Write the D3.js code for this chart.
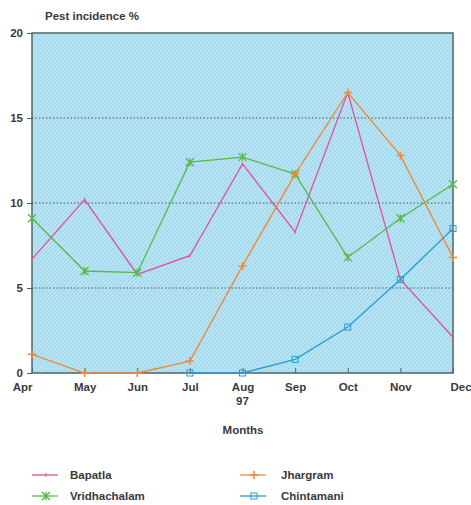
<!DOCTYPE html>
<html><head><meta charset="utf-8">
<script src="https://cdn.jsdelivr.net/npm/d3@7"></script>
<style>body{margin:0;background:#fff;} text{font-family:"Liberation Sans",Arial,sans-serif;font-weight:bold;fill:#3a3a3a;}</style>
</head><body><svg id="c" width="471" height="505"></svg>
<script>
const months = ["Apr","May","Jun","Jul","Aug","Sep","Oct","Nov","Dec"];
const yTicks = [0,5,10,15,20];
const bapatla      = [6.7,10.2,5.8,6.9,12.3,8.3,16.5,5.5,2.1];
const vridhachalam = [9.1,6.0,5.9,12.4,12.7,11.7,6.8,9.1,11.1];
const jhargram     = [1.1,0.0,0.0,0.7,6.3,11.7,16.5,12.8,6.8];
const chintamani   = [null,null,null,0.0,0.0,0.8,2.7,5.5,8.5];

const series = [
  {name:"Bapatla", values:bapatla, color:"#e0509e", marker:"tick"},
  {name:"Vridhachalam", values:vridhachalam, color:"#58b848", marker:"star"},
  {name:"Jhargram", values:jhargram, color:"#f0883a", marker:"plus"},
  {name:"Chintamani", values:chintamani, color:"#2e9ad4", marker:"square"}
];

const svg = d3.select("#c");
const L=32,R=453,T=33,B=373;
const x = d3.scalePoint().domain(months).range([L,R]);
const y = d3.scaleLinear().domain([0,20]).range([B,T]);

const defs = svg.append("defs");
const pat = defs.append("pattern").attr("id","hatch").attr("width",4).attr("height",4)
  .attr("patternUnits","userSpaceOnUse");
pat.append("rect").attr("width",4).attr("height",4).attr("fill","#a9dcee");
pat.append("path").attr("d","M0,4 L4,0").attr("stroke","#c4e9f5").attr("stroke-width",1);

svg.append("rect").attr("x",L).attr("y",T).attr("width",R-L).attr("height",B-T)
  .attr("fill","url(#hatch)");

// grid
svg.append("g").selectAll("line").data([5,10,15]).join("line")
  .attr("x1",L).attr("x2",R).attr("y1",d=>y(d)).attr("y2",d=>y(d))
  .attr("stroke","#4a5a60").attr("stroke-width",1).attr("stroke-dasharray","1.5,2");

// border
svg.append("rect").attr("x",L).attr("y",T).attr("width",R-L).attr("height",B-T)
  .attr("fill","none").attr("stroke","#4e6468").attr("stroke-width",1.5);

// y axis
const ya = svg.append("g").attr("transform",`translate(${L},0)`)
  .call(d3.axisLeft(y).tickValues(yTicks).tickSize(5).tickPadding(4));
ya.select(".domain").remove();
ya.selectAll("line").attr("stroke","#4e6468");
ya.selectAll("text").style("font-size","11.5px").attr("fill","#3a3a3a");

// x axis
const xa = svg.append("g").attr("transform",`translate(0,${B})`)
  .call(d3.axisBottom(x).tickSize(-5).tickPadding(10));
xa.select(".domain").remove();
xa.selectAll("line").attr("stroke","#4e6468");
xa.selectAll("text").style("font-size","11.5px").attr("fill","#3a3a3a");
xa.selectAll("text").filter(d=>d==="Apr").attr("text-anchor","end").attr("dx","0");
xa.selectAll("text").filter(d=>d==="Dec").attr("text-anchor","start").attr("dx","-3");
svg.append("text").attr("x",x("Aug")).attr("y",405).attr("text-anchor","middle")
  .style("font-size","11.5px").text("97");

svg.append("text").attr("x",243).attr("y",434).attr("text-anchor","middle")
  .style("font-size","11.5px").text("Months");
svg.append("text").attr("x",45).attr("y",20).style("font-size","11.5px").text("Pest incidence %");

function marker(g, type, color, cx, cy){
  const s=4;
  if(type==="tick"){
    g.append("line").attr("x1",cx).attr("x2",cx).attr("y1",cy-2).attr("y2",cy+2).attr("stroke",color).attr("stroke-width",1);
  } else if(type==="plus"){
    g.append("path").attr("d",`M${cx-s},${cy}H${cx+s}M${cx},${cy-s}V${cy+s}`).attr("stroke",color).attr("stroke-width",1.5);
  } else if(type==="star"){
    g.append("path").attr("d",`M${cx-s},${cy-s}L${cx+s},${cy+s}M${cx+s},${cy-s}L${cx-s},${cy+s}M${cx},${cy-s}V${cy+s}`).attr("stroke",color).attr("stroke-width",1.3);
  } else if(type==="square"){
    g.append("rect").attr("x",cx-3).attr("y",cy-3).attr("width",6).attr("height",6).attr("fill","none").attr("stroke",color).attr("stroke-width",1);
  }
}

const line = d3.line().defined(d=>d.v!=null).x(d=>x(d.m)).y(d=>y(d.v));
series.forEach(s=>{
  const pts = months.map((m,i)=>({m,v:s.values[i]}));
  const g = svg.append("g");
  g.append("path").datum(pts).attr("d",line).attr("fill","none").attr("stroke",s.color).attr("stroke-width",1.3);
  pts.filter(p=>p.v!=null).forEach(p=>marker(g,s.marker,s.color,x(p.m),y(p.v)));
});

// legend
const leg = [
  {s:series[0], lx:32, ty:479},
  {s:series[1], lx:32, ty:500},
  {s:series[2], lx:240, ty:479},
  {s:series[3], lx:240, ty:500}
];
leg.forEach(o=>{
  const g=svg.append("g");
  const cy=o.ty-4;
  g.append("line").attr("x1",o.lx).attr("x2",o.lx+26).attr("y1",cy).attr("y2",cy).attr("stroke",o.s.color).attr("stroke-width",1.3);
  marker(g,o.s.marker,o.s.color,o.lx+14,cy);
  g.append("text").attr("x",o.lx+(o.lx<100?38:41)).attr("y",o.ty).style("font-size","11.5px").text(o.s.name);
});
</script></body></html>
